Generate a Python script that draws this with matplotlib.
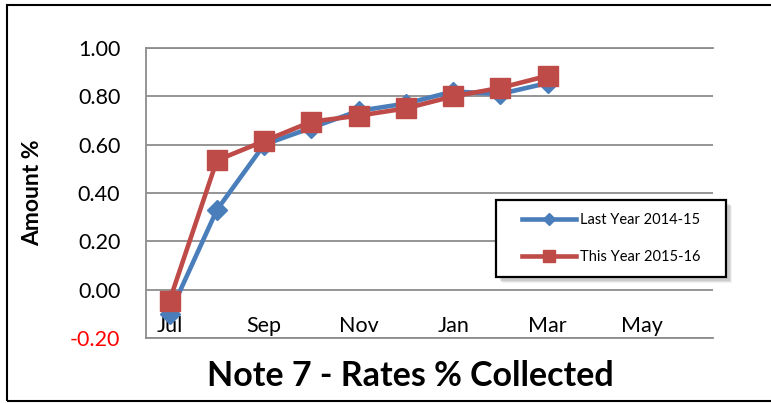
import matplotlib

matplotlib.use("Agg")

import matplotlib.pyplot as plt
import numpy as np
from matplotlib.patches import Rectangle

months = ["Jul", "Aug", "Sep", "Oct", "Nov", "Dec", "Jan", "Feb", "Mar", "Apr", "May", "Jun"]
last_year = [-0.10, 0.33, 0.60, 0.67, 0.74, 0.77, 0.82, 0.81, 0.855]
this_year = [-0.045, 0.535, 0.615, 0.695, 0.72, 0.75, 0.80, 0.835, 0.885]
y_ticks = [-0.20, 0.00, 0.20, 0.40, 0.60, 0.80, 1.00]

plt.rcParams["font.family"] = ["Lato", "DejaVu Sans"]

W, H = 771, 403
fig = plt.figure(figsize=(W / 100, H / 100), dpi=100)
ax = fig.add_axes([146 / W, 1 - 338 / H, (713 - 146) / W, (338 - 48) / H])

x = np.arange(len(months))
ax.plot(x[:len(last_year)], last_year, color="#4a7ebb", lw=3.3, marker="D",
        markersize=10, label="Last Year 2014-15", zorder=3)
ax.plot(x[:len(this_year)], this_year, color="#be4b48", lw=3.3, marker="s",
        markersize=14, label="This Year 2015-16", zorder=4)

ax.set_xlim(-0.5, len(months) - 0.5)
ax.set_ylim(-0.2, 1.0)
ax.set_yticks(y_ticks)
ax.set_yticklabels([f"{v:.2f}" for v in y_ticks], fontsize=15.5)
ax.get_yticklabels()[0].set_color("red")
ax.set_xticks(x[::2])
ax.set_xticklabels(months[::2], fontsize=15.5)
ax.tick_params(axis="x", length=0, pad=-16)
ax.tick_params(axis="y", length=0, pad=18.5)
ax.xaxis.set_zorder(5)
ax.grid(axis="y", color="#8c8c8c", lw=1.3)
ax.set_axisbelow(True)
ax.spines["right"].set_visible(False)
for side in ["left", "bottom", "top"]:
    ax.spines[side].set_color("#8c8c8c")
    ax.spines[side].set_linewidth(1.3)
ax.set_ylabel("Amount %", fontsize=16.5, fontweight="bold")
ax.yaxis.set_label_coords((43 - 146) / 567, 0.5)

# legend box drawn by hand (with a soft shadow), entries without frame
bx0, by0, bx1, by1 = 496, 200, 726, 277
for off, a in [(6, 0.10), (5, 0.15), (4, 0.2)]:
    ax.add_patch(Rectangle(((bx0 + off) / W, 1 - (by1 + off) / H),
                           (bx1 - bx0) / W, (by1 - by0) / H,
                           transform=fig.transFigure, facecolor="#7f7f7f",
                           edgecolor="none", alpha=a, zorder=8, clip_on=False))
ax.add_patch(Rectangle((bx0 / W, 1 - by1 / H), (bx1 - bx0) / W, (by1 - by0) / H,
                       transform=fig.transFigure, facecolor="white",
                       edgecolor="black", lw=1.6, zorder=9, clip_on=False))
leg = ax.legend(loc="center", bbox_to_anchor=((bx0 + bx1) / 2 / W, 1 - (by0 + by1) / 2 / H),
                bbox_transform=fig.transFigure, fontsize=10.5, frameon=False,
                borderpad=0, labelspacing=1.55, handlelength=3.7, handletextpad=0.25,
                markerscale=0.6)
leg.set_zorder(10)

fig.text(410 / W, 1 - 376 / H, "Note 7 - Rates % Collected", fontsize=24.5,
         fontweight="bold", ha="center", va="center")

fig.patches.append(Rectangle((7 / W, 2 / H), 1.2, 1 - 7 / H, transform=fig.transFigure,
                             fill=False, edgecolor="black", lw=1.5))

fig.savefig("out.png", dpi=100)
